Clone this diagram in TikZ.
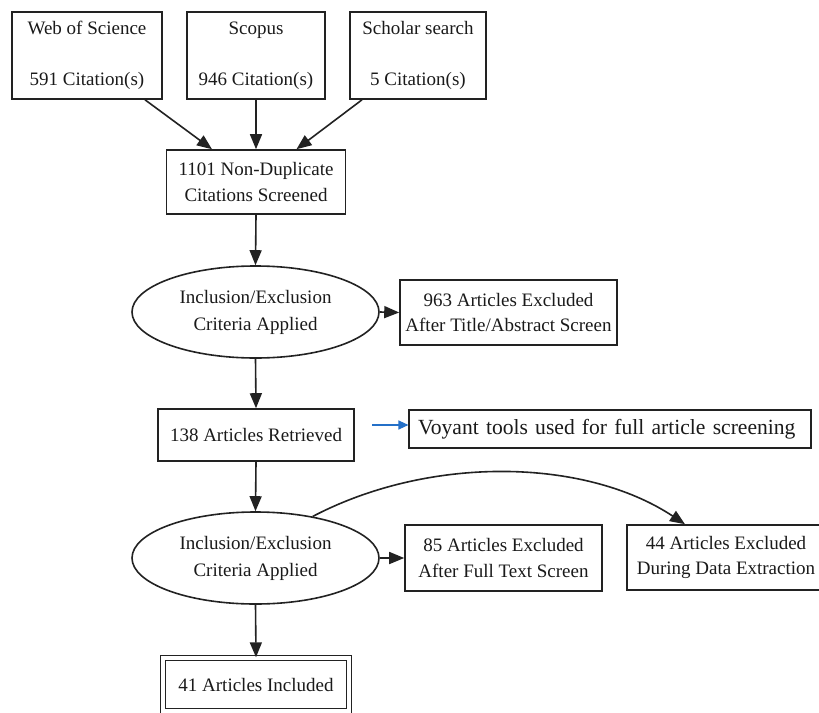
\documentclass[tikz,border=0pt]{standalone}
\usepackage{fontspec}
\setmainfont{Liberation Serif}
\usetikzlibrary{shapes.geometric,arrows.meta,calc}
\definecolor{ink}{HTML}{1A1A1A}
\definecolor{edge}{HTML}{222222}
\definecolor{bluearr}{HTML}{2470C8}
\begin{document}
\begin{tikzpicture}[x=1pt,y=-1pt,
  lbl/.style={font=\fontsize{19}{25.5}\selectfont, text=ink, align=center, inner sep=0pt},
  box/.style={lbl, draw=edge, line width=1.6pt, rectangle},
  oval/.style={lbl, draw=edge, line width=1.6pt, ellipse, minimum width=247pt, minimum height=92pt},
  arr/.style={draw=edge, line width=1.6pt, -{Triangle[length=15pt,width=12pt]}},
  bluearrow/.style={draw=bluearr, line width=1.1pt, -{Triangle[length=10pt,width=9pt]}}
]
\useasboundingbox (0,0) rectangle (819,712);
\fill[white] (0,0) rectangle (819,712);
\clip (0,0) rectangle (819,712);

\node[box, minimum width=150pt, minimum height=87pt] (wos) at (87,55.5) {Web of Science\\[25.5pt]591 Citation(s)};
\node[box, minimum width=138pt, minimum height=87pt] (scopus) at (256,55.5) {Scopus\\[25.5pt]946 Citation(s)};
\node[box, minimum width=136pt, minimum height=87pt] (scholar) at (418,55.5) {Scholar search\\[25.5pt]5 Citation(s)};

\node[box, minimum width=179pt, minimum height=64pt] (n1101) at (256,182) {1101 Non-Duplicate\\Citations Screened};

\node[oval, font=\fontsize{19}{27}\selectfont] (ell1) at (255.5,312) {Inclusion/Exclusion\\Criteria Applied};
\node[box, minimum width=217pt, minimum height=65pt] (ex963) at (508.5,312.5) {963 Articles Excluded\\After Title/Abstract Screen};

\node[box, minimum width=196pt, minimum height=52pt] (r138) at (256,435) {138 Articles Retrieved};
\node[lbl, draw=edge, line width=1.1pt, rectangle, font=\fontsize{21.6}{26}\selectfont, align=left, text width=384pt, inner xsep=9pt, minimum height=38pt] (voy) at (610,429) {Voyant tools used for full article screening};
\coordinate (vstart) at (372,425);

\node[oval, font=\fontsize{19}{27}\selectfont] (ell2) at (255.5,558) {Inclusion/Exclusion\\Criteria Applied};
\node[box, minimum width=197pt, minimum height=66pt] (ex85) at (503.5,558) {85 Articles Excluded\\After Full Text Screen};
\node[box, minimum width=198pt, minimum height=65pt] (ex44) at (726,557.5) {44 Articles Excluded\\During Data Extraction};

\node[lbl, draw=edge, line width=1.4pt, double, double distance=3.4pt, rectangle, minimum width=186pt, minimum height=53pt] (inc41) at (256,684.5) {41 Articles Included};

\draw[arr] ($(wos.south)+(58,0)$) -- ($(n1101.north)+(-44,0)$);
\draw[arr] (scopus.south) -- (scopus.south |- n1101.north);
\draw[arr] ($(scholar.south)+(-56,0)$) -- ($(n1101.north)+(40.5,0)$);
\draw[arr] (n1101.south) -- (ell1.north);
\draw[arr] (ell1.east) -- (ex963.west);
\draw[arr] (ell1.south) -- (r138.north);
\draw[bluearrow] (vstart) -- (vstart -| voy.west);
\draw[arr] (r138.south) -- (ell2.north);
\draw[arr] (ell2.east) -- (ex85.west);
\draw[arr] (ell2.36) .. controls (430,455) and (585,458) .. ($(ex44.north)+(-41,0)$);
\draw[arr] (ell2.south) -- (inc41.north);
\end{tikzpicture}
\end{document}
